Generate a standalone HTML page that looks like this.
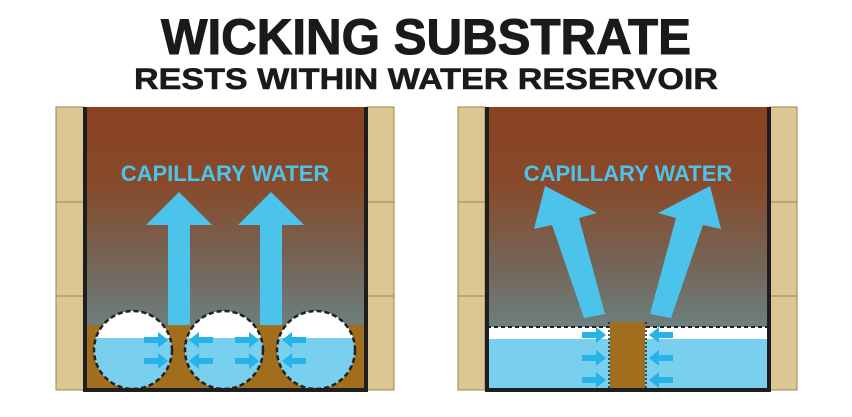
<!DOCTYPE html>
<html><head><style>
body{margin:0;background:#fff;}
svg{display:block}
</style></head><body>
<svg width="852" height="417" viewBox="0 0 852 417" xmlns="http://www.w3.org/2000/svg">
<defs>
<linearGradient id="soil" x1="0" y1="0" x2="0" y2="1">
<stop offset="0" stop-color="#8a4222"/>
<stop offset="0.35" stop-color="#874a2a"/>
<stop offset="0.7" stop-color="#756456"/>
<stop offset="1" stop-color="#6c8080"/>
</linearGradient>
<clipPath id="c1"><circle cx="133" cy="350" r="39"/></clipPath>
<clipPath id="c2"><circle cx="224" cy="350" r="39"/></clipPath>
<clipPath id="c3"><circle cx="316" cy="350" r="39"/></clipPath>
<g id="ra"><rect x="0" y="-3" width="16" height="6" fill="#27b2e8"/><polygon points="14,-8 24,0 14,8" fill="#27b2e8"/></g>
<g id="la"><rect x="-16" y="-3" width="16" height="6" fill="#27b2e8"/><polygon points="-14,-8 -24,0 -14,8" fill="#27b2e8"/></g>
</defs>
<text x="161" y="54" textLength="530" lengthAdjust="spacingAndGlyphs" font-family="Liberation Sans, sans-serif" font-weight="bold" font-size="50" fill="#1a1a1a" stroke="#1a1a1a" stroke-width="1">WICKING SUBSTRATE</text>
<text x="134" y="89" textLength="584" lengthAdjust="spacingAndGlyphs" font-family="Liberation Sans, sans-serif" font-weight="bold" font-size="30" fill="#1a1a1a" stroke="#1a1a1a" stroke-width="0.6">RESTS WITHIN WATER RESERVOIR</text>

<!-- LEFT PANEL -->
<g stroke="#9a8550" stroke-width="1" fill="#dcc794">
<rect x="56" y="107" width="28" height="95"/><rect x="56" y="202" width="28" height="94"/><rect x="56" y="296" width="28" height="94"/>
<rect x="367" y="107" width="27" height="95"/><rect x="367" y="202" width="27" height="94"/><rect x="367" y="296" width="27" height="94"/>
</g>
<rect x="86" y="107" width="279" height="220" fill="url(#soil)"/>
<rect x="86" y="325" width="279" height="63" fill="#a06e1c"/>
<g>
<g clip-path="url(#c1)"><rect x="90" y="300" width="90" height="100" fill="#fff"/><rect x="90" y="338" width="90" height="60" fill="#78d0ee"/></g>
<g clip-path="url(#c2)"><rect x="180" y="300" width="90" height="100" fill="#fff"/><rect x="180" y="338" width="90" height="60" fill="#78d0ee"/></g>
<g clip-path="url(#c3)"><rect x="270" y="300" width="90" height="100" fill="#fff"/><rect x="270" y="338" width="90" height="60" fill="#78d0ee"/></g>
</g>
<g fill="none" stroke="#222" stroke-width="2.5" stroke-dasharray="5,3">
<circle cx="133" cy="350" r="39"/><circle cx="224" cy="350" r="39"/><circle cx="316" cy="350" r="39"/>
</g>
<use href="#ra" x="144" y="340"/><use href="#ra" x="144" y="361"/>
<use href="#la" x="213" y="340"/><use href="#la" x="213" y="361"/>
<use href="#ra" x="235" y="340"/><use href="#ra" x="235" y="361"/>
<use href="#la" x="306" y="340"/><use href="#la" x="306" y="361"/>
<g fill="#4cc3ea">
<polygon points="168,325 190,325 190,225 212,225 179,192 146,225 168,225"/>
<polygon points="260,325 282,325 282,225 304,225 271,192 238,225 260,225"/>
</g>
<text x="225" y="181" text-anchor="middle" font-family="Liberation Sans, sans-serif" font-weight="bold" font-size="22" fill="#4cc3ea">CAPILLARY WATER</text>
<path d="M85,107 V390 H366 V107" fill="none" stroke="#1e1e1e" stroke-width="4"/>

<!-- RIGHT PANEL -->
<g stroke="#9a8550" stroke-width="1" fill="#dcc794">
<rect x="458" y="107" width="27" height="95"/><rect x="458" y="202" width="27" height="94"/><rect x="458" y="296" width="27" height="94"/>
<rect x="770" y="107" width="27" height="95"/><rect x="770" y="202" width="27" height="94"/><rect x="770" y="296" width="27" height="94"/>
</g>
<rect x="487" y="107" width="282" height="222" fill="url(#soil)"/>
<rect x="487" y="327" width="282" height="12" fill="#fff"/>
<rect x="487" y="339" width="282" height="49" fill="#78d0ee"/>
<rect x="610" y="322" width="35" height="66" fill="#a06e1c"/>
<g fill="none" stroke="#222" stroke-width="2" stroke-dasharray="4,3">
<path d="M487,327 H609"/><path d="M646,327 H769"/>
</g>
<g fill="none" stroke="#222" stroke-width="1.5" stroke-dasharray="2,2">
<path d="M609,322 V388"/><path d="M646,322 V388"/>
</g>
<use href="#ra" x="582" y="335"/><use href="#ra" x="582" y="358"/><use href="#ra" x="582" y="380"/>
<use href="#la" x="673" y="335"/><use href="#la" x="673" y="358"/><use href="#la" x="673" y="380"/>
<g fill="#4cc3ea">
<polygon points="584,318 605,314 579,218 597,213 545,186 534,229 552,225"/>
<polygon points="650,314 671,318 703,225 721,229 710,186 658,213 676,218"/>
</g>
<text x="628" y="181" text-anchor="middle" font-family="Liberation Sans, sans-serif" font-weight="bold" font-size="22" fill="#4cc3ea">CAPILLARY WATER</text>
<path d="M487,107 V390 H769 V107" fill="none" stroke="#1e1e1e" stroke-width="4"/>
</svg>
</body></html>
